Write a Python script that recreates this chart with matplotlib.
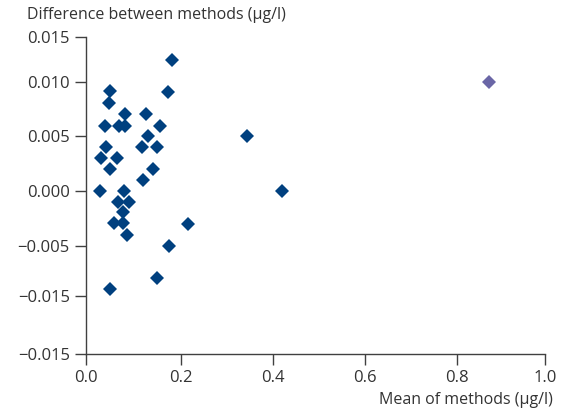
import matplotlib
matplotlib.use("Agg")
import matplotlib.pyplot as plt

plt.rcParams['font.family'] = ['Open Sans', 'DejaVu Sans']

# mean of methods (ug/l)
mean_vals = [0.188, 0.054, 0.180, 0.051, 0.086, 0.131, 0.041, 0.073, 0.086, 0.161,
             0.135, 0.044, 0.122, 0.155, 0.034, 0.068, 0.053, 0.146, 0.124, 0.031,
             0.083, 0.070, 0.095, 0.081, 0.062, 0.081, 0.223, 0.089, 0.181, 0.155,
             0.053, 0.352, 0.427]
# difference between methods (ug/l)
diff_vals = [0.0120, 0.0091, 0.0090, 0.0080, 0.0070, 0.0070, 0.0059, 0.0059, 0.0059, 0.0059,
             0.0050, 0.0040, 0.0040, 0.0040, 0.0030, 0.0030, 0.0020, 0.0020, 0.0010, 0.0000,
             0.0000, -0.0010, -0.0010, -0.0019, -0.0029, -0.0029, -0.0030, -0.0040, -0.0050, -0.0080,
             -0.0090, 0.0050, 0.0000]

# the one outlier drawn in another colour
outlier_mean = [0.879]
outlier_diff = [0.00995]

x_tick_labels = ["0.0", "0.2", "0.4", "0.6", "0.8", "1.0"]
x_tick_pos = [0.0, 0.2075, 0.407, 0.608, 0.808, 1.0]
y_tick_labels = ["0.015", "0.010", "0.005", "0.000", "\u22120.005", "\u22120.015", "\u22120.015"]
y_tick_pos = [0.01409, 0.00997, 0.00501, 0.0, -0.00502, -0.00962, -0.01494]

fig = plt.figure(figsize=(5.69, 4.11), dpi=100)
ax = fig.add_axes([0.1506, 0.1380, 0.8072, 0.7727])

ax.plot(mean_vals, diff_vals, linestyle='none', marker='D', markersize=7.3,
        color='#00407f', markeredgewidth=0, clip_on=False)
ax.plot(outlier_mean, outlier_diff, linestyle='none', marker='D', markersize=7.0,
        color='#6a66a6', markeredgewidth=0, clip_on=False)

ax.set_xlim(0, 1.0)
ax.set_ylim(y_tick_pos[-1], y_tick_pos[0])
ax.set_xticks(x_tick_pos)
ax.set_xticklabels(x_tick_labels)
ax.set_yticks(y_tick_pos)
ax.set_yticklabels(y_tick_labels)

for side in ['top', 'right']:
    ax.spines[side].set_visible(False)
for side in ['left', 'bottom']:
    ax.spines[side].set_color('#404040')
    ax.spines[side].set_linewidth(1.0)
ax.tick_params(axis='both', colors='#404040', labelcolor='#333333', labelsize=12,
               length=8, width=1.0, pad=3.5)

fig.text(27 / 569, 1 - 15 / 411, "Difference between methods (\u00b5g/l)",
         ha='left', va='center', fontsize=11.5, color='#333333')
fig.text(553 / 569, 1 - 400 / 411, "Mean of methods (\u00b5g/l)",
         ha='right', va='center', fontsize=11.5, color='#333333')

fig.savefig("out.png", dpi=100)
